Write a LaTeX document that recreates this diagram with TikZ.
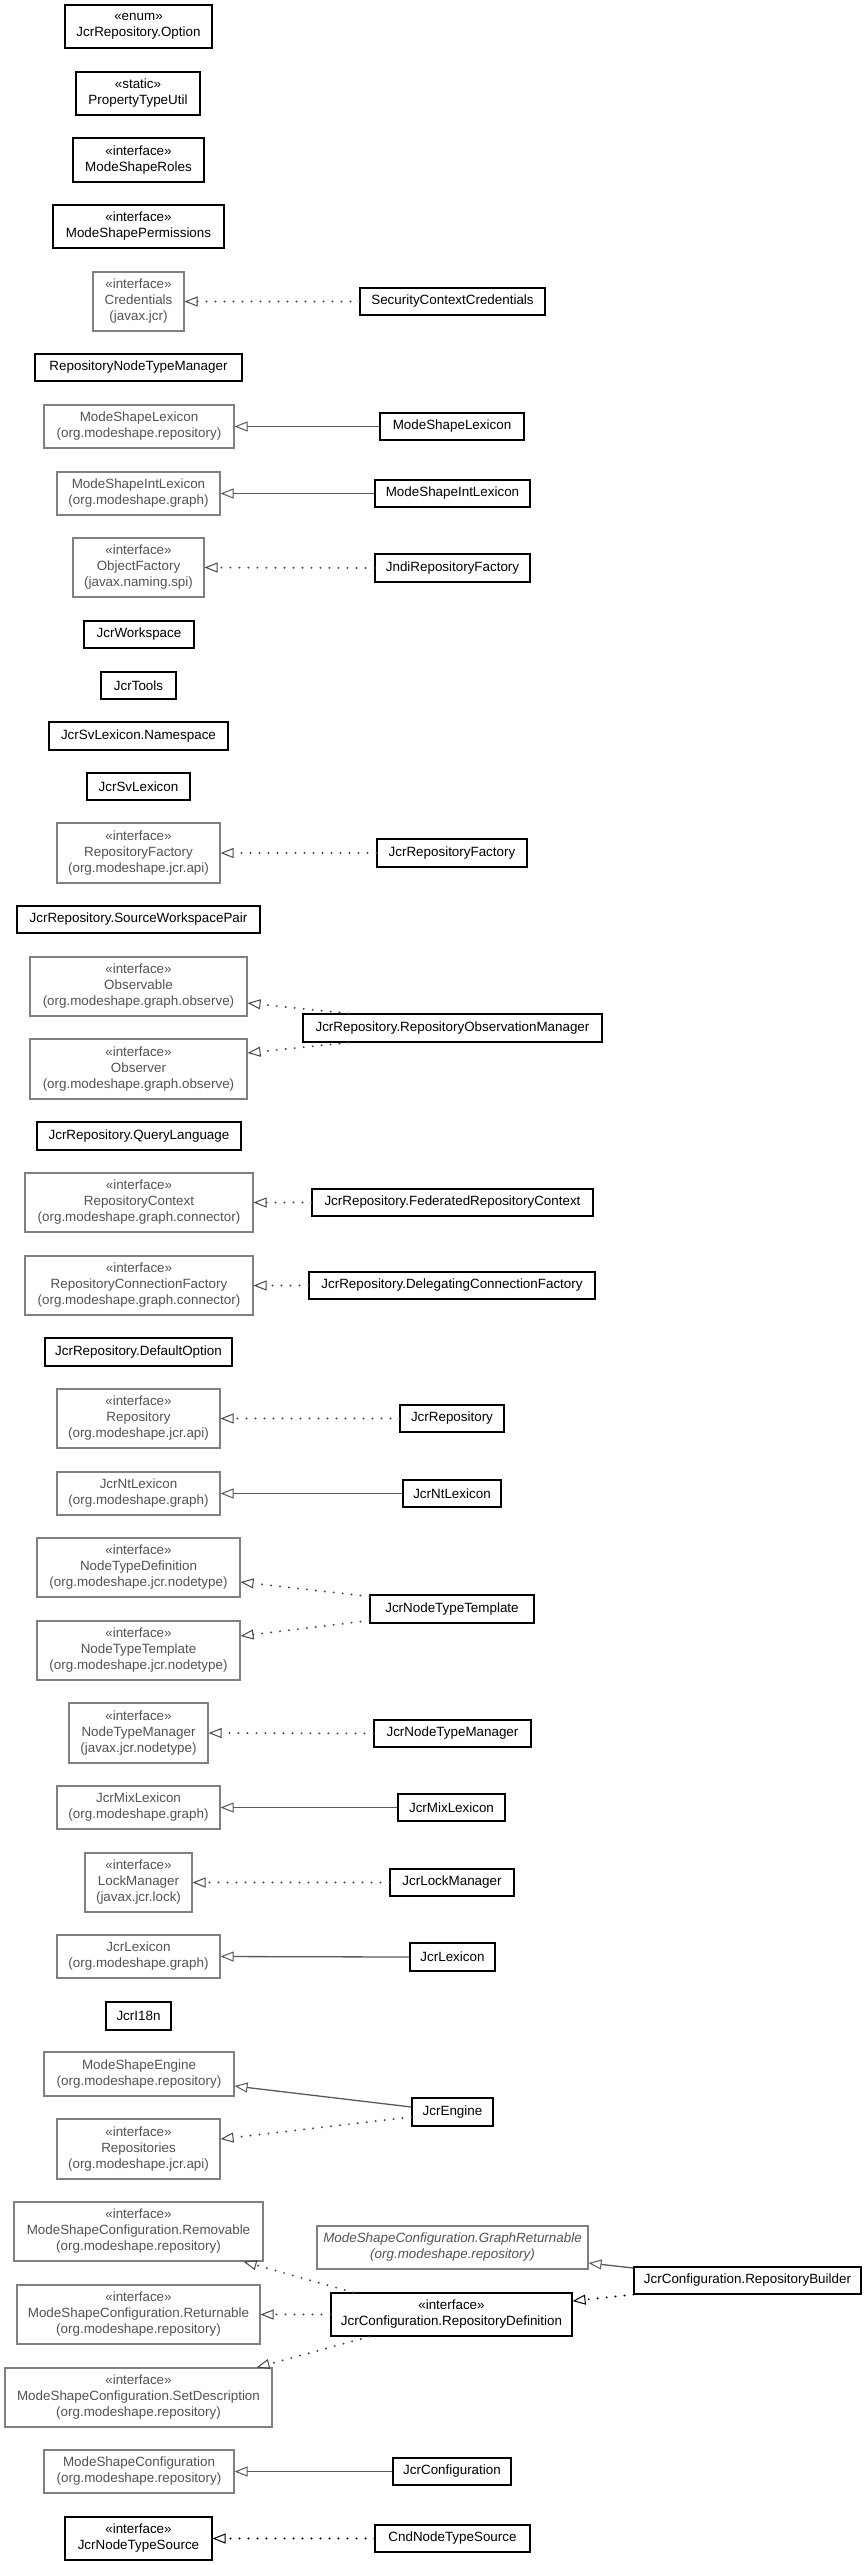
\documentclass[tikz,border=0pt]{standalone}
\usepackage{fontspec}
\setmainfont{Liberation Sans}
\usetikzlibrary{arrows.meta,calc}
\newcommand\umlbox[7]{\node[#6, minimum width={#4-#2}, minimum height={#5-#3}] (#1) at ({(#2+#4)/2},{(#3+#5)/2}) {#7};}
\begin{document}
\begin{tikzpicture}[x=1pt,y=-1pt,
  base/.style={rectangle, inner sep=0pt, align=center, font=\fontsize{13.4}{16}\selectfont, line width=1.1pt},
  blk/.style={base, draw=black, text=black},
  gry/.style={base, draw=black!50, text=black!68},
  tip/.style={-{Triangle[open, length=13pt, width=10pt, line width=1pt]}},
  gen/.style={tip, draw=black!65, line width=1.3pt},
  real/.style={tip, draw=black!72, line width=2.2pt, line cap=round, dash pattern=on 0pt off 9pt},
  realb/.style={real, draw=black}
]
\path[use as bounding box] (0,0) rectangle (867,2565);

\umlbox{opt}{65}{5}{212}{48}{blk}{«enum»\\JcrRepository.Option}
\umlbox{ptu}{76}{72}{200}{115}{blk}{«static»\\PropertyTypeUtil}
\umlbox{msr}{73}{138}{204}{182}{blk}{«interface»\\ModeShapeRoles}
\umlbox{msp}{53}{205}{224}{248}{blk}{«interface»\\ModeShapePermissions}
\umlbox{cred}{93}{272}{184}{331}{gry}{«interface»\\Credentials\\(javax.jcr)}
\umlbox{scc}{360}{288}{545}{315}{blk}{SecurityContextCredentials}
\umlbox{rntm}{35}{354}{242}{381}{blk}{RepositoryNodeTypeManager}
\umlbox{mslg}{44}{405}{234}{448}{gry}{ModeShapeLexicon\\(org.modeshape.repository)}
\umlbox{msl}{380}{413}{524}{440}{blk}{ModeShapeLexicon}
\umlbox{msilg}{57}{472}{220}{515}{gry}{ModeShapeIntLexicon\\(org.modeshape.graph)}
\umlbox{msil}{375}{480}{530}{507}{blk}{ModeShapeIntLexicon}
\umlbox{of}{73}{538}{204}{597}{gry}{«interface»\\ObjectFactory\\(javax.naming.spi)}
\umlbox{jndi}{375}{554}{530}{582}{blk}{JndiRepositoryFactory}
\umlbox{ws}{84}{621}{194}{648}{blk}{JcrWorkspace}
\umlbox{tools}{101}{672}{176}{699}{blk}{JcrTools}
\umlbox{svns}{49}{722}{228}{750}{blk}{JcrSvLexicon.Namespace}
\umlbox{sv}{87}{773}{190}{800}{blk}{JcrSvLexicon}
\umlbox{rf}{57}{823}{220}{883}{gry}{«interface»\\RepositoryFactory\\(org.modeshape.jcr.api)}
\umlbox{jrf}{377}{839}{527}{867}{blk}{JcrRepositoryFactory}
\umlbox{swp}{17}{906}{260}{933}{blk}{JcrRepository.SourceWorkspacePair}
\umlbox{obsl}{30}{957}{247}{1016}{gry}{«interface»\\Observable\\(org.modeshape.graph.observe)}
\umlbox{rom}{303}{1014}{602}{1042}{blk}{JcrRepository.RepositoryObservationManager}
\umlbox{obsr}{30}{1039}{247}{1099}{gry}{«interface»\\Observer\\(org.modeshape.graph.observe)}
\umlbox{ql}{37}{1122}{241}{1150}{blk}{JcrRepository.QueryLanguage}
\umlbox{rc}{25}{1173}{253}{1232}{gry}{«interface»\\RepositoryContext\\(org.modeshape.graph.connector)}
\umlbox{frc}{312}{1189}{593}{1216}{blk}{JcrRepository.FederatedRepositoryContext}
\umlbox{rcf}{25}{1256}{253}{1315}{gry}{«interface»\\RepositoryConnectionFactory\\(org.modeshape.graph.connector)}
\umlbox{dcf}{309}{1272}{595}{1299}{blk}{JcrRepository.DelegatingConnectionFactory}
\umlbox{dopt}{45}{1338}{232}{1366}{blk}{JcrRepository.DefaultOption}
\umlbox{repo}{57}{1389}{220}{1448}{gry}{«interface»\\Repository\\(org.modeshape.jcr.api)}
\umlbox{jrepo}{400}{1405}{504}{1432}{blk}{JcrRepository}
\umlbox{ntlg}{57}{1472}{220}{1515}{gry}{JcrNtLexicon\\(org.modeshape.graph)}
\umlbox{ntl}{403}{1480}{501}{1507}{blk}{JcrNtLexicon}
\umlbox{ntd}{37}{1538}{240}{1597}{gry}{«interface»\\NodeTypeDefinition\\(org.modeshape.jcr.nodetype)}
\umlbox{jntt}{370}{1595}{534}{1623}{blk}{JcrNodeTypeTemplate}
\umlbox{ntt}{37}{1621}{240}{1680}{gry}{«interface»\\NodeTypeTemplate\\(org.modeshape.jcr.nodetype)}
\umlbox{ntm}{69}{1703}{208}{1763}{gry}{«interface»\\NodeTypeManager\\(javax.jcr.nodetype)}
\umlbox{jntm}{374}{1720}{531}{1747}{blk}{JcrNodeTypeManager}
\umlbox{mixg}{57}{1786}{220}{1829}{gry}{JcrMixLexicon\\(org.modeshape.graph)}
\umlbox{mix}{398}{1794}{505}{1821}{blk}{JcrMixLexicon}
\umlbox{lm}{85}{1853}{192}{1912}{gry}{«interface»\\LockManager\\(javax.jcr.lock)}
\umlbox{jlm}{390}{1869}{514}{1896}{blk}{JcrLockManager}
\umlbox{lexg}{57}{1935}{220}{1978}{gry}{JcrLexicon\\(org.modeshape.graph)}
\umlbox{lex}{410}{1943}{495}{1971}{blk}{JcrLexicon}
\umlbox{i18n}{106}{2002}{171}{2030}{blk}{JcrI18n}
\umlbox{mse}{44}{2052}{234}{2096}{gry}{ModeShapeEngine\\(org.modeshape.repository)}
\umlbox{eng}{412}{2098}{493}{2126}{blk}{JcrEngine}
\umlbox{repos}{57}{2119}{220}{2179}{gry}{«interface»\\Repositories\\(org.modeshape.jcr.api)}
\umlbox{rem}{14}{2202}{263}{2261}{gry}{«interface»\\ModeShapeConfiguration.Removable\\(org.modeshape.repository)}
\umlbox{gr}{317}{2226}{588}{2269}{gry,font=\fontsize{13.4}{16}\selectfont\itshape}{ModeShapeConfiguration.GraphReturnable\\(org.modeshape.repository)}
\umlbox{rb}{634}{2267}{861}{2294}{blk}{JcrConfiguration.RepositoryBuilder}
\umlbox{ret}{17}{2285}{260}{2344}{gry}{«interface»\\ModeShapeConfiguration.Returnable\\(org.modeshape.repository)}
\umlbox{rd}{331}{2293}{572}{2336}{blk}{«interface»\\JcrConfiguration.RepositoryDefinition}
\umlbox{sd}{5}{2368}{272}{2427}{gry}{«interface»\\ModeShapeConfiguration.SetDescription\\(org.modeshape.repository)}
\umlbox{msc}{44}{2450}{234}{2493}{gry}{ModeShapeConfiguration\\(org.modeshape.repository)}
\umlbox{jc}{393}{2458}{511}{2485}{blk}{JcrConfiguration}
\umlbox{jnts}{65}{2517}{212}{2560}{blk}{«interface»\\JcrNodeTypeSource}
\umlbox{cnd}{375}{2525}{530}{2552}{blk}{CndNodeTypeSource}

\draw[real] (scc.west) -- (cred.east);
\draw[gen] (msl.west) -- (mslg.east);
\draw[gen] (msil.west) -- (msilg.east);
\draw[real] (jndi.west) -- (of.east);
\draw[real] (jrf.west) -- (rf.east);
\draw[real] ($(rom.north west)+(46,0)$) -- ($(obsl.east)+(0,16.5)$);
\draw[real] ($(rom.south west)+(46,0)$) -- ($(obsr.east)+(0,-16)$);
\draw[real] (frc.west) -- (rc.east);
\draw[real] (dcf.west) -- (rcf.east);
\draw[real] (jrepo.west) -- (repo.east);
\draw[gen] (ntl.west) -- (ntlg.east);
\draw[real] ($(jntt.north west)+(0,2)$) -- ($(ntd.east)+(0,14.5)$);
\draw[real] ($(jntt.south west)+(0,-3)$) -- ($(ntt.east)+(0,-14.5)$);
\draw[real] (jntm.west) -- (ntm.east);
\draw[gen] (mix.west) -- (mixg.east);
\draw[real] (jlm.west) -- (lm.east);
\draw[gen] (lex.west) -- (lexg.east);
\draw[gen] ($(eng.west)+(0,-5)$) -- ($(mse.east)+(0,12)$);
\draw[real] ($(eng.west)+(0,5)$) -- ($(repos.east)+(0,-10)$);
\draw[real] ($(rd.north west)+(23,0)$) -- ($(rem.south east)+(-20,0)$);
\draw[real] (rd.west) -- (ret.east);
\draw[real] ($(rd.south west)+(39,0)$) -- ($(sd.north east)+(-16,0)$);
\draw[gen] ($(rb.west)+(0,-12.5)$) -- ($(gr.east)+(0,15.5)$);
\draw[realb] (rb.south west) -- ($(rd.east)+(0,-13.5)$);
\draw[gen] (jc.west) -- (msc.east);
\draw[realb] (cnd.west) -- (jnts.east);
\end{tikzpicture}
\end{document}
